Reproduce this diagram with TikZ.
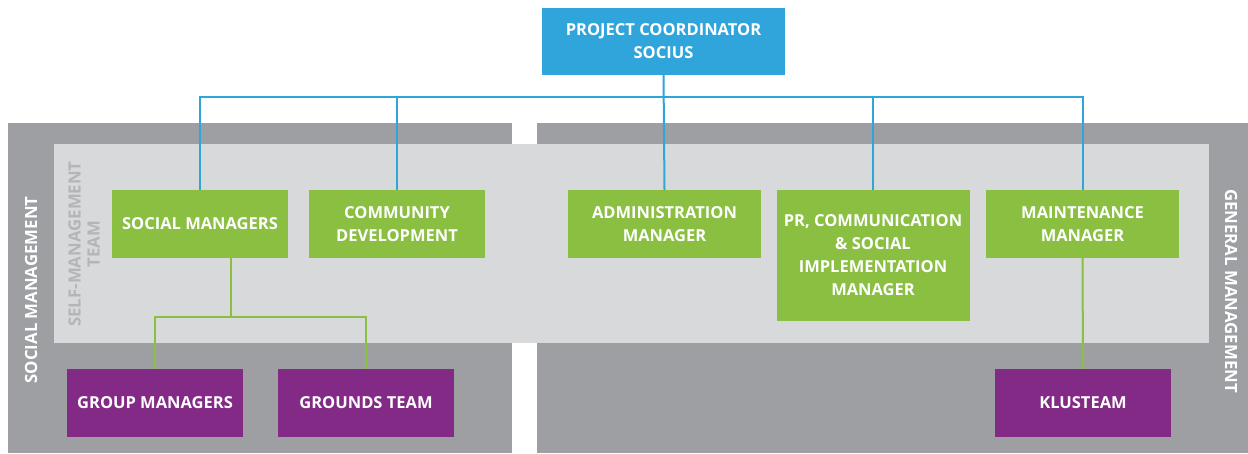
\documentclass[tikz,border=0pt]{standalone}
\usepackage{fontspec}
\setmainfont{Open Sans}
\definecolor{cblue}{HTML}{30A5DC}
\definecolor{cgreen}{HTML}{8ABF42}
\definecolor{cpurple}{HTML}{832A87}
\definecolor{cdark}{HTML}{9D9FA3}
\definecolor{clight}{HTML}{D8D9DB}
\definecolor{ctxtgrey}{HTML}{B3B5B8}
\tikzset{
  box/.style={inner sep=0pt, text=white, align=center, font=\bfseries\fontsize{16.5}{23}\selectfont},
  bluebox/.style={box, fill=cblue},
  greenbox/.style={box, fill=cgreen},
  purplebox/.style={box, fill=cpurple},
  blueline/.style={draw=cblue, line width=2pt},
  greenline/.style={draw=cgreen, line width=2pt},
  sidelabel/.style={inner sep=0pt, align=center, font=\bfseries\fontsize{16.8}{19}\selectfont},
}
\begin{document}
\begin{tikzpicture}[x=1pt,y=-1pt]
\useasboundingbox (0,0) rectangle (1248,453);
% backgrounds
\fill[cdark] (8,123) rectangle (512,453);
\fill[cdark] (537,123) rectangle (1248,453);
\fill[clight] (54,144) rectangle (1209,343);
% side labels
\node[sidelabel, text=white, rotate=90] (lsm) at (31,290) {SOCIAL MANAGEMENT};
\node[sidelabel, text=ctxtgrey, rotate=90] (lsmt) at (84,244) {SELF-MANAGEMENT\\TEAM};
\node[sidelabel, text=white, rotate=-90] (lgm) at (1231,291) {GENERAL MANAGEMENT};
% boxes
\node[bluebox, minimum width=243pt, minimum height=67pt] (coord) at (663.5,41.5) {PROJECT COORDINATOR\\SOCIUS};
\node[greenbox, minimum width=176pt, minimum height=68pt] (soc) at (200,224) {SOCIAL MANAGERS};
\node[greenbox, minimum width=176pt, minimum height=68pt] (com) at (397,224) {COMMUNITY\\DEVELOPMENT};
\node[greenbox, minimum width=193pt, minimum height=68pt] (adm) at (664.5,224) {ADMINISTRATION\\MANAGER};
\node[greenbox, minimum width=193pt, minimum height=131pt] (pr) at (873,255.5) {PR, COMMUNICATION\\\& SOCIAL\\IMPLEMENTATION\\MANAGER};
\node[greenbox, minimum width=193pt, minimum height=68pt] (mnt) at (1082.5,224) {MAINTENANCE\\MANAGER};
\node[purplebox, minimum width=176pt, minimum height=68pt] (grp) at (155,403) {GROUP MANAGERS};
\node[purplebox, minimum width=176pt, minimum height=68pt] (grd) at (366,403) {GROUNDS TEAM};
\node[purplebox, minimum width=176pt, minimum height=68pt] (klu) at (1083,403) {KLUSTEAM};
% connectors
\coordinate (bus) at (0,97);
\coordinate (gbus) at (0,317);
\coordinate (socdown) at (231,258);
\draw[blueline] (coord.south) -- (adm.north);
\draw[blueline] (soc.north) -- (soc.north |- bus) -- (mnt.north |- bus) -- (mnt.north);
\draw[blueline] (com.north) -- (com.north |- bus);
\draw[blueline] (pr.north) -- (pr.north |- bus);
\draw[greenline] (socdown) -- (socdown |- gbus);
\draw[greenline] (grp.north) -- (grp.north |- gbus) -- (grd.north |- gbus) -- (grd.north);
\draw[greenline] (mnt.south) -- (klu.north);
\end{tikzpicture}
\end{document}
